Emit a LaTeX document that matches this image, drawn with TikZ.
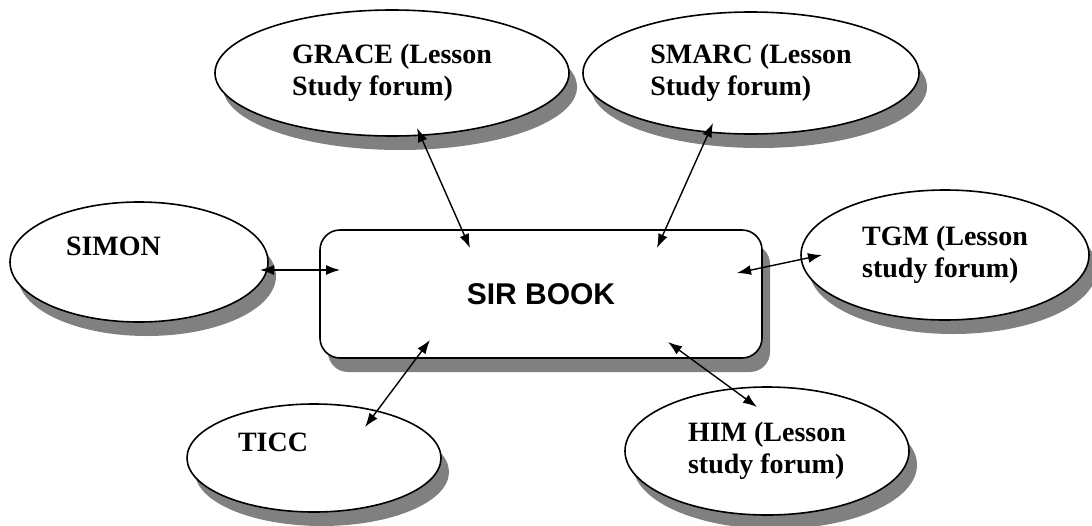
\documentclass[tikz,border=0pt]{standalone}
\usepackage{fontspec}
\setmainfont{Liberation Serif}
\setsansfont{Liberation Sans}
\usetikzlibrary{arrows.meta,shapes.geometric,shadows,scopes}
\tikzset{
  >={Latex[length=7pt,width=5pt]},
  sh/.style={drop shadow={shadow xshift=4pt, shadow yshift=-7pt, fill=black!50, opacity=1}},
  el/.style={ellipse, draw, line width=0.8pt, fill=white, inner sep=0pt, align=left,
    font=\fontsize{14}{16}\selectfont\bfseries, sh},
  rb/.style={rectangle, rounded corners=10pt, draw, line width=0.8pt, fill=white,
    minimum width=221pt, minimum height=64pt, font=\fontsize{15}{18}\selectfont\sffamily\bfseries, sh}
}

\begin{document}
\begin{tikzpicture}[x=0.5pt, y=-0.5pt, line/.style={draw, line width=0.7pt}]
  \useasboundingbox (0,0) rectangle (1092,525);
  \node[rb] (book) at (541,294) {SIR BOOK};
  \node[el, minimum width=177pt, minimum height=63pt] (grace) at (392,73) {GRACE (Lesson\\Study forum)};
  \node[el, minimum width=168pt, minimum height=61pt] (smarc) at (751,73) {SMARC (Lesson\\Study forum)};
  \node[el, minimum width=129pt, minimum height=60pt, text width=73pt] (simon) at (139,262) {SIMON\\[-5pt]\strut};
  \node[el, minimum width=144pt, minimum height=65pt] (tgm) at (945,255) {TGM (Lesson\\study forum)};
  \node[el, minimum width=127pt, minimum height=54pt, text width=76pt] (ticc) at (314,458) {TICC\\[-5pt]\strut};
  \node[el, minimum width=142pt, minimum height=64pt] (him) at (767,451) {HIM (Lesson\\study forum)};
  % arrow ends
  \coordinate (ga) at (417,128); \coordinate (gb) at (470,248);
  \coordinate (ma) at (713,123); \coordinate (mb) at (657,248);
  \coordinate (sa) at (260,270); \coordinate (sb) at (340,270);
  \coordinate (ta) at (822,255); \coordinate (tb) at (737,273);
  \coordinate (ca) at (365,427); \coordinate (cb) at (430,340);
  \coordinate (ha) at (757,407); \coordinate (hb) at (668,342);
  {[<->, line]
    \draw (ga) -- (gb);
    \draw (ma) -- (mb);
    \draw (sa) -- (sb);
    \draw (ta) -- (tb);
    \draw (ca) -- (cb);
    \draw (ha) -- (hb);
  }
\end{tikzpicture}
\end{document}
